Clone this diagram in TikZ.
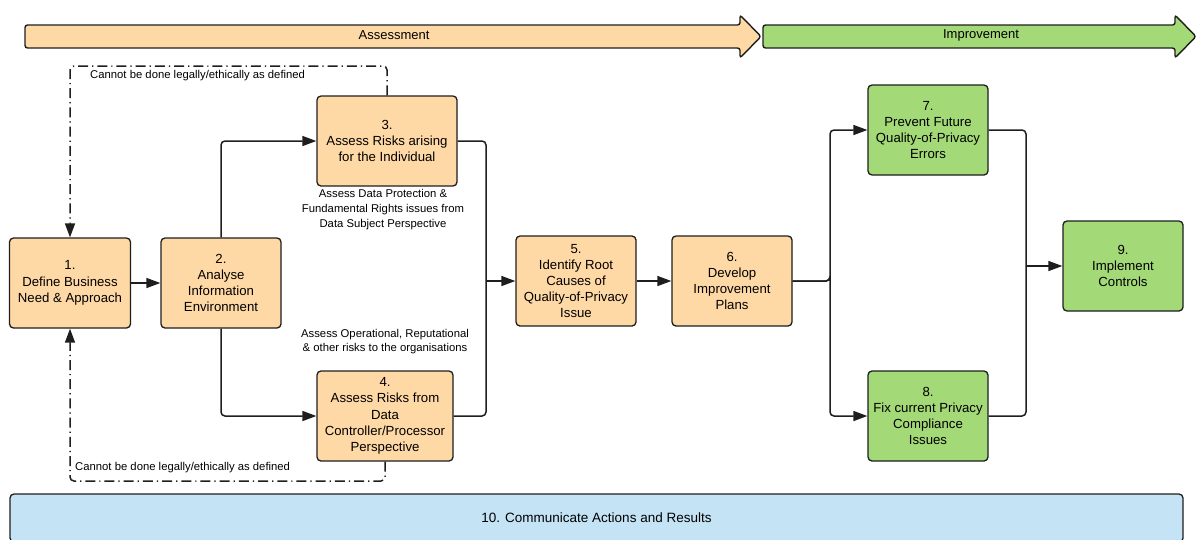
\documentclass[tikz,border=0pt]{standalone}
\usepackage{fontspec}
\setmainfont{Liberation Sans}
\usetikzlibrary{arrows.meta}
\definecolor{orng}{HTML}{FFD9A5}
\definecolor{grn}{HTML}{A3D977}
\definecolor{blu}{HTML}{C4E4F6}
\definecolor{edgec}{HTML}{1E1E1E}
\begin{document}
\begin{tikzpicture}[x=1pt,y=-1pt,
  box/.style={draw=edgec,line width=1.3pt,rounded corners=4pt,align=center,inner sep=0pt,
    minimum width=120pt,minimum height=90pt,font=\fontsize{13.2}{16.2}\selectfont},
  obox/.style={box,fill=orng},
  gbox/.style={box,fill=grn},
  note/.style={align=center,inner sep=0pt,font=\fontsize{11.3}{14.6}\selectfont},
  conn/.style={line width=1.5pt,draw=edgec,rounded corners=4pt},
  tip/.style={-{Triangle[length=14pt,width=10pt]}},
  arr/.style={conn,tip},
  dd/.style={conn,dash pattern=on 10pt off 4pt on 1.2pt off 4pt},
  band/.style={draw=edgec,line width=1.4pt,rounded corners=2.5pt},
  bandtext/.style={font=\fontsize{13}{16}\selectfont,inner sep=0pt}
]
\useasboundingbox (0,0) rectangle (1198,539);

% header arrows
\draw[band,fill=orng] (25,25) -- (740,25) -- (740,15) -- (761,36.5) -- (740,58) -- (740,48) -- (25,48) -- cycle;
\node[bandtext] (assess) at (394,35) {Assessment};
\draw[band,fill=grn] (763,25) -- (1175,25) -- (1175,15) -- (1196,36.5) -- (1175,58) -- (1175,48) -- (763,48) -- cycle;
\node[bandtext] (improve) at (981,35) {Improvement};

% nodes
\node[obox,minimum width=121pt] (n1) at (70,283) {1.\\Define Business\\Need \& Approach};
\node[obox] (n2) at (221,283) {2.\\Analyse\\Information\\Environment};
\node[obox,minimum width=140pt] (n3) at (387,141) {3.\\Assess Risks arising\\for the Individual};
\node[obox,minimum width=136pt] (n4) at (385,416) {4.\\Assess Risks from\\Data\\Controller/Processor\\Perspective};
\node[obox] (n5) at (576,281) {5.\\Identify Root\\Causes of\\Quality-of-Privacy\\Issue};
\node[obox] (n6) at (732,281) {6.\\Develop\\Improvement\\Plans};
\node[gbox] (n7) at (928,130) {7.\\Prevent Future\\Quality-of-Privacy\\Errors};
\node[gbox] (n8) at (928,416) {8.\\Fix current Privacy\\Compliance\\Issues};
\node[gbox] (n9) at (1123,266) {9.\\Implement\\Controls};
\node[box,fill=blu,minimum width=1173pt,minimum height=48pt,font=\fontsize{13.5}{16}\selectfont] (n10) at (596.5,518) {10. Communicate Actions and Results};

% notes
\node[note] (a3) at (383,209.5) {Assess Data Protection \&\\Fundamental Rights issues from\\Data Subject Perspective};
\node[note] (a4) at (385,341.5) {Assess Operational, Reputational\\\& other risks to the organisations};
\node[note,anchor=west] (c1) at (90,76) {Cannot be done legally/ethically as defined};
\node[note,anchor=west] (c2) at (75,467.5) {Cannot be done legally/ethically as defined};

% coordinates
\coordinate (s2) at (486,281);
\coordinate (s6) at (830,281);
\coordinate (s9) at (1026,266);
\coordinate (tl) at (70,66);
\coordinate (bl) at (70,481);

% connectors
\draw[arr] (n1) -- (n2);
\draw[arr] (n2.north) |- (n3.west);
\draw[arr] (n2.south) |- (n4.west);
\draw[conn] (n3.east) -| (s2);
\draw[conn] (n4.east) -| (s2);
\draw[arr] (s2) -- (n5.west);
\draw[arr] (n5) -- (n6);
\draw[arr] (n6.east) -| (s6) |- (n7.west);
\draw[arr] (n6.east) -| (s6) |- (n8.west);
\draw[conn] (n7.east) -| (s9);
\draw[conn] (n8.east) -| (s9);
\draw[arr] (s9) -- (n9.west);
\draw[dd,tip] (n3.north) |- (tl) -- (n1.north);
\draw[dd,tip] (n4.south) |- (bl) -- (n1.south);
\end{tikzpicture}
\end{document}
